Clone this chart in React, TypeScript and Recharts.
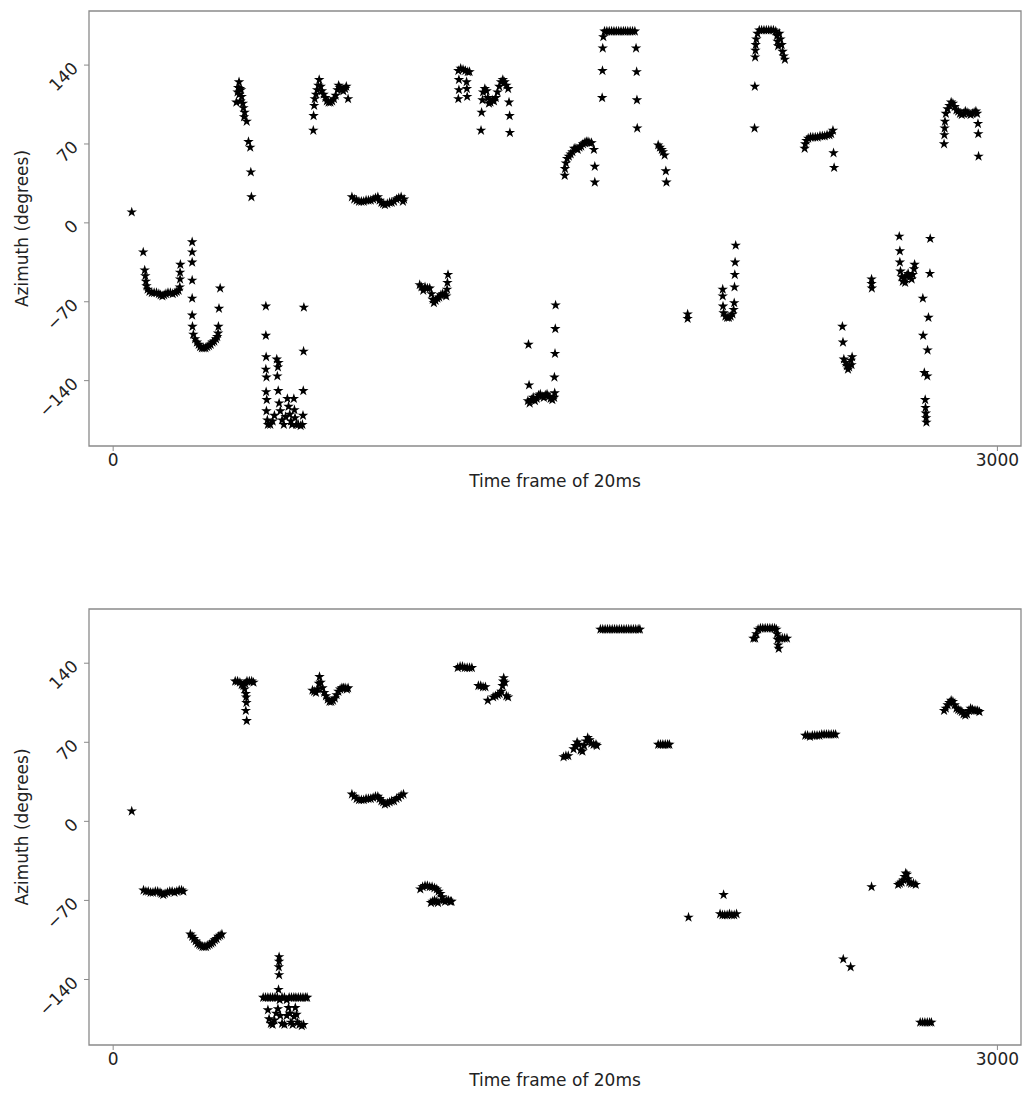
import React from "react";
import { ScatterChart, Scatter, XAxis, YAxis, ReferenceArea, Symbols } from "recharts";

type Pt = [number, number];

// tick values
const xTicks = [0, 3000];
const yTicks = [-140, -70, 0, 70, 140];

// upper panel: [time frame, azimuth]
const topPts: Pt[] = [
  [63, 9.5],
  [102, -26], [107, -42], [109, -47], [111, -52], [113, -56], [117, -59], [123, -61], [131, -62], [139, -62], [147, -62], [155, -63], [161, -64],
  [167, -65], [173, -64], [179, -63], [186, -62], [194, -62], [202, -63], [210, -62], [216, -61], [222, -60], [226, -57], [227, -50], [227, -44], [228, -37],
  [268, -17], [268, -26], [268, -35], [268, -51], [268, -67], [268, -82], [269, -92], [272, -99], [278, -103], [284, -106], [290, -108], [295, -110], [301, -111],
  [307, -111], [313, -111], [319, -110], [325, -109], [331, -108], [337, -106], [343, -105], [349, -103], [353, -101], [356, -98], [357, -92], [359, -76], [363, -58],
  [427, 125], [424, 120], [430, 119], [434, 118], [422, 116], [428, 114], [436, 112], [418, 107], [432, 108], [440, 106], [442, 102], [446, 98], [444, 94],
  [453, 90], [459, 72], [465, 67], [467, 45], [469, 23],
  [518, -74], [518, -100], [519, -119], [518, -130], [520, -137], [519, -150], [521, -157], [520, -167], [523, -175], [525, -179], [533, -179], [541, -176],
  [547, -171], [555, -121], [561, -124], [559, -128], [557, -136], [560, -149], [563, -160], [567, -167], [573, -175], [579, -179], [585, -172], [591, -156],
  [595, -163], [599, -170], [603, -176], [607, -179], [613, -156], [615, -166], [617, -173], [621, -179], [628, -179], [636, -180], [642, -179],
  [647, -75], [646, -114], [645, -149], [644, -171],
  [679, 82], [680, 95], [682, 104], [684, 110], [688, 114], [692, 118], [696, 122], [699, 127], [704, 121], [708, 117], [714, 114], [720, 111], [725, 108],
  [731, 107], [737, 107], [743, 108], [749, 110], [755, 113], [761, 118], [765, 122], [769, 120], [775, 118], [781, 117], [787, 119], [791, 121], [797, 110],
  [810, 23], [818, 21], [826, 20], [834, 19], [842, 19], [850, 19], [858, 20], [866, 20], [874, 20], [882, 21], [890, 22], [898, 23], [904, 20], [910, 18],
  [916, 17], [922, 16], [930, 17], [938, 18], [945, 18], [953, 19], [961, 21], [969, 22], [977, 23], [983, 19], [987, 21],
  [1040, -55], [1046, -57], [1052, -60], [1058, -57], [1066, -58], [1074, -58], [1080, -63], [1084, -68], [1088, -71], [1094, -69], [1100, -67], [1106, -66],
  [1112, -64], [1118, -63], [1124, -64], [1130, -65], [1133, -59], [1134, -53], [1136, -46],
  [1171, 135], [1179, 137], [1187, 136], [1195, 135], [1203, 134], [1209, 134], [1173, 127], [1173, 118], [1171, 110], [1199, 125], [1200, 119], [1201, 112],
  [1248, 82], [1250, 98], [1253, 109], [1255, 116], [1261, 119], [1267, 117], [1271, 111], [1275, 106], [1280, 107], [1286, 109], [1292, 108], [1298, 111],
  [1304, 116], [1310, 121], [1316, 125], [1322, 127], [1328, 125], [1334, 122], [1340, 119], [1343, 107], [1345, 95], [1346, 80],
  [1409, -108], [1411, -144], [1407, -158], [1413, -160], [1419, -157], [1425, -155], [1431, -158], [1437, -156], [1443, -153], [1449, -152], [1455, -154],
  [1461, -155], [1466, -153], [1472, -152], [1478, -154], [1484, -156], [1490, -157], [1496, -155], [1498, -151], [1497, -137], [1499, -116], [1500, -94], [1501, -73],
  [1532, 42], [1533, 48], [1536, 53], [1540, 57], [1546, 59], [1552, 61], [1558, 63], [1564, 66], [1570, 66], [1576, 65], [1582, 67], [1588, 68], [1594, 70],
  [1600, 71], [1605, 72], [1611, 72], [1617, 71], [1623, 71], [1631, 65], [1634, 50], [1634, 36],
  [1659, 111], [1660, 135], [1661, 155], [1663, 165], [1667, 170], [1675, 170], [1683, 170], [1691, 170], [1699, 170], [1707, 170], [1715, 170], [1723, 170],
  [1731, 170], [1738, 170], [1746, 170], [1754, 170], [1762, 170], [1770, 170], [1774, 155], [1776, 134], [1777, 109], [1778, 84],
  [1849, 69], [1855, 67], [1861, 65], [1865, 63], [1871, 60], [1875, 46], [1877, 36],
  [1949, -81], [1949, -85],
  [2068, -59], [2068, -65], [2069, -74], [2071, -80], [2077, -83], [2083, -84], [2089, -84], [2095, -83], [2101, -81], [2105, -77], [2107, -71], [2108, -57],
  [2109, -46], [2110, -35], [2112, -20],
  [2176, 84], [2177, 121], [2178, 147], [2179, 153], [2180, 158], [2182, 163], [2186, 168], [2192, 171], [2200, 171], [2208, 171], [2216, 171], [2224, 171],
  [2232, 171], [2240, 171], [2248, 170], [2252, 166], [2254, 161], [2256, 157], [2260, 168], [2264, 163], [2268, 158], [2271, 152], [2275, 148], [2279, 145],
  [2346, 66], [2348, 70], [2352, 73], [2358, 75], [2366, 76], [2374, 76], [2382, 76], [2390, 76], [2398, 77], [2406, 77], [2414, 77], [2422, 78], [2430, 78],
  [2436, 79], [2442, 82], [2444, 62], [2446, 49],
  [2474, -92], [2476, -106], [2479, -121], [2485, -124], [2489, -127], [2493, -130], [2497, -128], [2503, -122], [2507, -119], [2505, -126],
  [2573, -50], [2573, -54], [2574, -58],
  [2667, -12], [2669, -25], [2669, -35], [2671, -43], [2675, -48], [2679, -52], [2685, -49], [2691, -47], [2697, -45], [2703, -48], [2709, -50], [2713, -46],
  [2717, -41], [2719, -37], [2687, -53],
  [2772, -14], [2771, -45], [2747, -67], [2766, -84], [2748, -100], [2763, -113], [2752, -133], [2762, -136], [2755, -157], [2756, -164], [2757, -169],
  [2758, -173], [2759, -177],
  [2819, 70], [2820, 78], [2821, 84], [2822, 90], [2825, 97], [2831, 101], [2837, 104], [2843, 107], [2849, 106], [2855, 103], [2861, 100], [2867, 99],
  [2873, 97], [2879, 96], [2885, 97], [2891, 99], [2897, 98], [2903, 97], [2909, 96], [2915, 97], [2921, 98], [2927, 99], [2931, 97], [2934, 88], [2935, 79], [2936, 59],
];

// lower panel: [time frame, azimuth]
const bottomPts: Pt[] = [
  [63, 9],
  [103, -61], [111, -62], [119, -62], [127, -63], [135, -63], [143, -62], [151, -62], [159, -63], [164, -64], [170, -65], [176, -64], [184, -63], [192, -62],
  [200, -62], [208, -63], [216, -62], [224, -61], [232, -61], [238, -62],
  [262, -100], [268, -102], [274, -104], [280, -106], [286, -108], [292, -109], [297, -110], [303, -111], [309, -111], [315, -111], [321, -110], [327, -109],
  [333, -108], [339, -107], [345, -105], [351, -104], [357, -102], [363, -101], [369, -100],
  [414, 124], [422, 124], [430, 123], [436, 121], [442, 120], [448, 122], [454, 124], [462, 124], [470, 124], [476, 123], [446, 117], [450, 113], [451, 110],
  [452, 105], [450, 98], [453, 89],
  [509, -156], [517, -156], [525, -156], [533, -156], [541, -156], [549, -156], [563, -120], [563, -124], [562, -129], [563, -136], [561, -149], [557, -156],
  [565, -158], [573, -156], [581, -156], [589, -158], [597, -156], [605, -156], [613, -156], [620, -156], [628, -156], [636, -156], [644, -156], [652, -156],
  [658, -156], [525, -167], [529, -175], [535, -179], [541, -180], [547, -176], [553, -170], [559, -166], [567, -172], [573, -179], [581, -180], [589, -172],
  [595, -165], [599, -170], [603, -178], [609, -180], [614, -173], [618, -165], [622, -171], [626, -178], [632, -180], [640, -181], [646, -180],
  [676, 116], [682, 115], [688, 114], [694, 117], [698, 122], [700, 128], [704, 123], [710, 118], [716, 114], [722, 111], [728, 108], [734, 106], [740, 106],
  [746, 107], [752, 109], [758, 112], [764, 115], [770, 117], [776, 118], [781, 118], [787, 118], [793, 117], [797, 118],
  [810, 24], [818, 22], [826, 20], [834, 19], [842, 19], [850, 19], [858, 20], [866, 20], [874, 20], [882, 21], [890, 22], [898, 22], [904, 20], [910, 18],
  [916, 17], [922, 15], [930, 16], [938, 17], [945, 18], [953, 18], [961, 20], [969, 21], [977, 23], [985, 24],
  [1042, -60], [1050, -58], [1058, -57], [1066, -57], [1074, -58], [1082, -58], [1090, -59], [1098, -60], [1104, -62], [1110, -64], [1116, -67], [1120, -70],
  [1078, -72], [1084, -71], [1090, -70], [1096, -71], [1102, -72], [1126, -71], [1132, -70], [1138, -70], [1144, -71], [1148, -71],
  [1169, 136], [1177, 137], [1185, 137], [1193, 136], [1201, 136], [1209, 136], [1217, 136],
  [1239, 120], [1247, 120], [1255, 119], [1263, 119], [1271, 107], [1289, 110], [1297, 111], [1305, 112], [1311, 113], [1317, 115], [1321, 120], [1323, 124],
  [1325, 127], [1329, 123], [1334, 111], [1340, 110],
  [1528, 57], [1536, 58], [1544, 58], [1562, 64], [1568, 67], [1574, 70], [1580, 68], [1586, 63], [1592, 62], [1598, 67], [1604, 71], [1610, 74], [1616, 72],
  [1622, 69], [1630, 68], [1638, 68], [1641, 67],
  [1653, 170], [1661, 170], [1669, 170], [1677, 170], [1685, 170], [1693, 170], [1701, 170], [1709, 170], [1717, 170], [1725, 170], [1733, 170], [1741, 170],
  [1749, 170], [1757, 170], [1765, 170], [1773, 170], [1781, 170], [1787, 170],
  [1849, 68], [1857, 68], [1865, 68], [1873, 68], [1881, 68], [1887, 68],
  [1952, -85],
  [2071, -65], [2059, -82], [2067, -83], [2075, -83], [2083, -83], [2091, -82], [2099, -83], [2107, -83], [2115, -82],
  [2172, 162], [2178, 162], [2182, 166], [2188, 170], [2196, 171], [2204, 171], [2212, 171], [2220, 171], [2228, 171], [2236, 171], [2244, 171], [2250, 170],
  [2252, 166], [2254, 161], [2256, 156], [2258, 153], [2262, 162], [2270, 162], [2278, 162], [2286, 162],
  [2348, 76], [2356, 76], [2364, 75], [2372, 76], [2380, 76], [2388, 76], [2396, 76], [2404, 77], [2412, 77], [2420, 77], [2428, 77], [2436, 77], [2444, 77], [2451, 77],
  [2477, -122], [2502, -129],
  [2573, -58],
  [2663, -56], [2669, -55], [2675, -54], [2681, -52], [2685, -49], [2689, -46], [2693, -47], [2697, -51], [2701, -54], [2707, -55], [2715, -55], [2723, -56],
  [2738, -178], [2746, -178], [2754, -178], [2762, -178], [2770, -178], [2776, -178],
  [2819, 98], [2825, 100], [2831, 103], [2837, 105], [2843, 107], [2849, 106], [2855, 103], [2861, 100], [2867, 99], [2873, 98], [2879, 97], [2885, 95],
  [2891, 94], [2897, 95], [2903, 98], [2909, 100], [2915, 99], [2921, 98], [2927, 98], [2933, 98], [2939, 97],
];

const FONT = "DejaVu Sans";
const TXT = "#222";
const SPINE = "#8a8a8a";
const X_DOMAIN: [number, number] = [-82, 3080];
const Y_DOMAIN: [number, number] = [-198, 188];

const fmt = (v: number) => (v < 0 ? `\u2212${-v}` : `${v}`);

// y tick labels are turned 45 degrees like the original
const YTick = (props: any) => {
  const { x, y, payload } = props;
  const ax = x - 7;
  return (
    <text x={ax} y={y} transform={`rotate(-45 ${ax} ${y})`} textAnchor="end" dominantBaseline="central"
      fontSize={17} fontFamily={FONT} fill={TXT}>
      {fmt(payload.value)}
    </text>
  );
};

const YTitle = (props: any) => {
  const vb = props.viewBox;
  const cy = vb && vb.height ? vb.y + vb.height / 2 : 228.5;
  return (
    <text x={22} y={cy} transform={`rotate(-90 22 ${cy})`} textAnchor="middle" dominantBaseline="central"
      fontSize={17} fontFamily={FONT} fill={TXT}>
      Azimuth (degrees)
    </text>
  );
};

// small black star, like matplotlib's '*' marker
const Star = (props: any) => <Symbols cx={props.cx} cy={props.cy} type="star" size={34} fill="#000" />;

function Panel({ points, height }: { points: Pt[]; height: number }) {
  const data = points.map(([frame, azimuth]) => ({ frame, azimuth }));
  return (
    <ScatterChart width={1023} height={height} margin={{ top: 11, right: 2, bottom: 0, left: 0 }}>
      <XAxis type="number" dataKey="frame" domain={X_DOMAIN} allowDataOverflow ticks={xTicks}
        height={48} tickSize={5} tickMargin={3} axisLine={false} tickLine={{ stroke: SPINE }}
        tick={{ fontSize: 17, fill: TXT, fontFamily: FONT }}
        label={{ value: "Time frame of 20ms", position: "insideBottom", offset: 7, fontSize: 17, fill: TXT, fontFamily: FONT }} />
      <YAxis type="number" dataKey="azimuth" domain={Y_DOMAIN} allowDataOverflow ticks={yTicks}
        width={89} tickSize={5} tickMargin={2} axisLine={false} tickLine={{ stroke: SPINE }}
        tick={<YTick />} label={<YTitle />} />
      <ReferenceArea x1={X_DOMAIN[0]} x2={X_DOMAIN[1]} y1={Y_DOMAIN[0]} y2={Y_DOMAIN[1]}
        fill="none" stroke={SPINE} strokeWidth={1.3} ifOverflow="visible" />
      <Scatter data={data} fill="#000" shape={Star} isAnimationActive={false} />
    </ScatterChart>
  );
}

export default function App() {
  return (
    <div style={{ position: "absolute", left: 0, top: 0, width: 1023, height: 1095, background: "#fff" }}>
      <div style={{ position: "absolute", left: 0, top: 0 }}>
        <Panel points={topPts} height={494} />
      </div>
      <div style={{ position: "absolute", left: 0, top: 598 }}>
        <Panel points={bottomPts} height={495} />
      </div>
    </div>
  );
}
